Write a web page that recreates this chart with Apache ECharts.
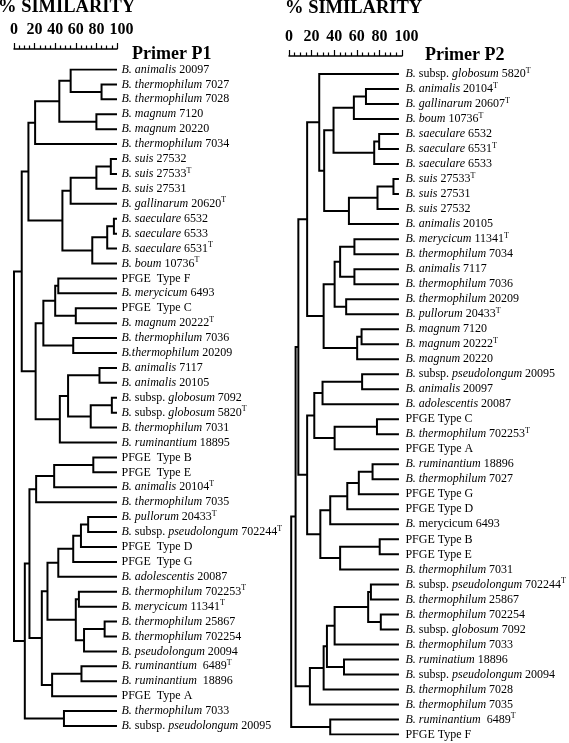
<!DOCTYPE html>
<html><head><meta charset="utf-8">
<script src="https://cdn.jsdelivr.net/npm/echarts@6/dist/echarts.min.js"></script>
<style>html,body{margin:0;padding:0;background:#fff}#c{width:569px;height:743px}</style>
</head><body><div id="c"></div>
<script>
// ---- data ----
const leftLeaves = [
  "_B. animalis_ 20097", "_B. thermophilum_ 7027", "_B. thermophilum_ 7028", "_B. magnum_ 7120",
  "_B. magnum_ 20220", "_B. thermophilum_ 7034", "_B. suis_ 27532", "_B. suis_ 27533^T",
  "_B. suis_ 27531", "_B. gallinarum_ 20620^T", "_B. saeculare_ 6532", "_B. saeculare_ 6533",
  "_B. saeculare_ 6531^T", "_B. boum_ 10736^T", "PFGE  Type F", "_B. merycicum_ 6493",
  "PFGE  Type C", "_B. magnum_ 20222^T", "_B. thermophilum_ 7036", "_B.thermophilum_ 20209",
  "_B. animalis_ 7117", "_B. animalis_ 20105", "_B._ subsp. _globosum_ 7092", "_B._ subsp. _globosum_ 5820^T",
  "_B. thermophilum_ 7031", "_B. ruminantium_ 18895", "PFGE  Type B", "PFGE  Type E",
  "_B. animalis_ 20104^T", "_B. thermophilum_ 7035", "_B. pullorum_ 20433^T", "_B._ subsp. _pseudolongum_ 702244^T",
  "PFGE  Type D", "PFGE  Type G", "_B. adolescentis_ 20087", "_B. thermophilum_ 702253^T",
  "_B. merycicum_ 11341^T", "_B. thermophilum_ 25867", "_B. thermophilum_ 702254", "_B. pseudolongum_ 20094",
  "_B. ruminantium_  6489^T", "_B. ruminantium_  18896", "PFGE  Type A", "_B. thermophilum_ 7033",
  "_B._ subsp. _pseudolongum_ 20095"
];
// [node id, child A, child B, % similarity]; numbers are leaf indices
const leftMerges = [
  ['n1', 1, 2, 85], ['n2', 0, 'n1', 55], ['n3', 3, 4, 80], ['n4', 'n2', 'n3', 44],
  ['n5', 'n4', 5, 20.5], ['n6', 6, 7, 94], ['n7', 'n6', 8, 80], ['n8', 'n7', 9, 55],
  ['n9', 10, 11, 97], ['n10', 'n9', 12, 90.5], ['n11', 'n10', 13, 76], ['n12', 'n8', 'n11', 47],
  ['n13', 'n5', 'n12', 14], ['n14', 14, 15, 43], ['n15', 16, 17, 60], ['n16', 'n14', 'n15', 40],
  ['n17', 18, 19, 57.5], ['n18', 'n16', 'n17', 28.5], ['n19', 20, 21, 83], ['n20', 22, 23, 95],
  ['n21', 'n20', 24, 74.5], ['n22', 'n19', 'n21', 52.5], ['n23', 'n22', 25, 44.5], ['n24', 'n18', 'n23', 21],
  ['n25', 'n13', 'n24', 7.5], ['n26', 26, 27, 77], ['n27', 'n26', 28, 39], ['n28', 'n27', 29, 21.5],
  ['n29', 30, 31, 72], ['n30', 'n29', 32, 65], ['n31', 'n30', 33, 57.5], ['n32', 'n31', 34, 43],
  ['n33', 35, 36, 63], ['n34', 37, 38, 88], ['n35', 'n34', 39, 68], ['n36', 'n33', 'n35', 60],
  ['n37', 'n32', 'n36', 32.5], ['n38', 40, 41, 65.5], ['n39', 'n38', 42, 37], ['n40', 'n37', 'n39', 27],
  ['n41', 'n28', 'n40', 15], ['n42', 43, 44, 48.5], ['n43', 'n41', 'n42', 10.5], ['root', 'n25', 'n43', 0]
];
const rightLeaves = [
  "_B._ subsp. _globosum_ 5820^T", "_B. animalis_ 20104^T", "_B. gallinarum_ 20607^T", "_B. boum_ 10736^T",
  "_B. saeculare_ 6532", "_B. saeculare_ 6531^T", "_B. saeculare_ 6533", "_B. suis_ 27533^T",
  "_B. suis_ 27531", "_B. suis_ 27532", "_B. animalis_ 20105", "_B. merycicum_ 11341^T",
  "_B. thermophilum_ 7034", "_B. animalis_ 7117", "_B. thermophilum_ 7036", "_B. thermophilum_ 20209",
  "_B. pullorum_ 20433^T", "_B. magnum_ 7120", "_B. magnum_ 20222^T", "_B. magnum_ 20220",
  "_B._ subsp. _pseudolongum_ 20095", "_B. animalis_ 20097", "_B. adolescentis_ 20087", "PFGE Type C",
  "_B. thermophilum_ 702253^T", "PFGE Type A", "_B. ruminantium_ 18896", "_B. thermophilum_ 7027",
  "PFGE Type G", "PFGE Type D", "_B._ merycicum 6493", "PFGE Type B",
  "PFGE Type E", "_B. thermophilum_ 7031", "_B._ subsp. _pseudolongum_ 702244^T", "_B. thermophilum_ 25867",
  "_B. thermophilum_ 702254", "_B._ subsp. _globosum_ 7092", "_B. thermophilum_ 7033", "_B. ruminatium_ 18896",
  "_B._ subsp. _pseudolongum_ 20094", "_B. thermophilum_ 7028", "_B. thermophilum_ 7035", "_B. ruminantium_  6489^T",
  "PFGE Type F"
];
const rightMerges = [
  ['m1', 1, 2, 70], ['m2', 'm1', 3, 59], ['m3', 4, 5, 82], ['m4', 'm3', 6, 77.5],
  ['m5', 'm2', 'm4', 40.5], ['m6', 7, 8, 95], ['m7', 'm6', 9, 80.5], ['m8', 'm7', 10, 54.5],
  ['m9', 'm5', 'm8', 32], ['m10', 0, 'm9', 27.5], ['m11', 11, 12, 59.5], ['m12', 13, 14, 59.5],
  ['m13', 'm11', 'm12', 46.5], ['m14', 15, 16, 52], ['m15', 'm13', 'm14', 41.5], ['m16', 17, 18, 66],
  ['m17', 'm16', 19, 62], ['m18', 'm15', 'm17', 31.5], ['m19', 'm10', 'm18', 16.5], ['m20', 20, 21, 66.5],
  ['m21', 'm20', 22, 30.5], ['m22', 23, 24, 80], ['m23', 'm22', 25, 41.5], ['m24', 'm21', 'm23', 23],
  ['m25', 26, 27, 76], ['m26', 'm25', 28, 63.5], ['m27', 'm26', 29, 53], ['m28', 'm27', 30, 37.5],
  ['m29', 31, 32, 82.5], ['m30', 'm29', 33, 46.5], ['m31', 'm28', 'm30', 28.5], ['m32', 'm24', 'm31', 16.5],
  ['m33', 34, 35, 74.5], ['m34', 36, 37, 83.5], ['m35', 'm33', 'm34', 72], ['m36', 'm35', 38, 41.5],
  ['m37', 39, 40, 50], ['m38', 'm36', 'm37', 34.5], ['m39', 'm38', 41, 31.5], ['m40', 'm39', 42, 19],
  ['m41', 'm19', 'm32', 8.5], ['m42', 'm41', 'm40', 6], ['m43', 43, 44, 37.5], ['root', 'm42', 'm43', 2]
];
const scaleMin = 0, scaleMax = 100, scaleStep = 20;
const titleText = '% SIMILARITY';
const panelTitles = ['Primer P1', 'Primer P2'];

// ---- helpers ----
function buildBrackets(merges) {
  const pos = {};
  const node = r => typeof r === 'number' ? { h: scaleMax, y: r } : pos[r];
  return merges.map(([id, a, b, h]) => {
    const A = node(a), B = node(b);
    pos[id] = { h: h, y: (A.y + B.y) / 2 };
    return { coords: [[A.h, A.y], [h, A.y], [h, B.y], [B.h, B.y]] };
  });
}
function richLabel(s) {
  return s.split(/(_[^_]+_|\^T)/).filter(t => t.length).map(t => {
    if (t[0] === '_') return '{i|' + t.slice(1, -1) + '}';
    if (t === '^T') return '{s|T}';
    return '{n|' + t + '}';
  }).join('');
}
const FF = '"Liberation Serif", "Times New Roman", serif';
const FS = 12;
const richStyles = {
  n: { fontFamily: FF, fontSize: FS, color: '#000', lineHeight: 15 },
  i: { fontFamily: FF, fontSize: FS, color: '#000', fontStyle: 'italic', lineHeight: 15 },
  s: { fontFamily: FF, fontSize: 8, color: '#000', verticalAlign: 'top', lineHeight: 9 }
};
function scaleAxis(gridIndex) {
  return {
    type: 'value', gridIndex: gridIndex, position: 'top',
    min: scaleMin, max: scaleMax, interval: scaleStep,
    axisLine: { show: true, lineStyle: { color: '#000', width: 1.5 } },
    axisTick: { show: true, length: 6, lineStyle: { color: '#000', width: 1.2 } },
    minorTick: { show: true, splitNumber: 4, length: 3.5, lineStyle: { color: '#000', width: 1.2 } },
    splitLine: { show: false },
    axisLabel: {
      margin: 9, color: '#000',
      formatter: v => v === scaleMax ? '{p|' + v + '}' : '{d|' + v + '}',
      rich: {
        d: { fontFamily: FF, fontSize: 16, fontWeight: 'bold', color: '#000' },
        p: { fontFamily: FF, fontSize: 16, fontWeight: 'bold', color: '#000', padding: [0, 0, 0, 9] }
      }
    }
  };
}
function hiddenX(gridIndex) {
  return { type: 'value', gridIndex: gridIndex, min: scaleMin, max: scaleMax, show: false, splitLine: { show: false } };
}
function hiddenY(gridIndex) {
  return { type: 'value', gridIndex: gridIndex, min: 0, max: 1, show: false, splitLine: { show: false } };
}
function yAxisCfg(gridIndex, leaves, margin) {
  return {
    type: 'value', gridIndex: gridIndex, position: 'right', inverse: true,
    min: 0, max: leaves.length - 1, interval: 1,
    axisLine: { show: false }, axisTick: { show: false }, splitLine: { show: false },
    axisLabel: { margin: margin, formatter: v => richLabel(leaves[v] || ''), rich: richStyles }
  };
}
function treeSeries(idx, merges) {
  return {
    type: 'lines', coordinateSystem: 'cartesian2d', xAxisIndex: idx, yAxisIndex: idx,
    polyline: true, silent: true,
    lineStyle: { color: '#000', width: 2, opacity: 1 },
    data: buildBrackets(merges)
  };
}

const chart = echarts.init(document.getElementById('c'), null, { renderer: 'canvas' });
chart.setOption({
  animation: false,
  backgroundColor: '#fff',
  grid: [
    { left: 14, width: 103, top: 69.5, height: 656.5 },
    { left: 289, width: 113, top: 74, height: 660.5 },
    { left: 14, width: 103, top: 47, height: 2 },
    { left: 289, width: 113, top: 54, height: 2 }
  ],
  xAxis: [hiddenX(0), hiddenX(1), scaleAxis(2), scaleAxis(3)],
  yAxis: [yAxisCfg(0, leftLeaves, 4.5), yAxisCfg(1, rightLeaves, 6.5), hiddenY(2), hiddenY(3)],
  series: [treeSeries(0, leftMerges), treeSeries(1, rightMerges)],
  graphic: [
    { type: 'text', x: -2, y: 7, style: { text: titleText, fontFamily: FF, fontSize: 18.5, fontWeight: 'bold', fill: '#000', verticalAlign: 'middle', textVerticalAlign: 'middle' } },
    { type: 'text', x: 285, y: 8.5, style: { text: titleText, fontFamily: FF, fontSize: 18.5, fontWeight: 'bold', fill: '#000', verticalAlign: 'middle', textVerticalAlign: 'middle' } },
    { type: 'text', x: 132, y: 54, style: { text: panelTitles[0], fontFamily: FF, fontSize: 18, fontWeight: 'bold', fill: '#000', verticalAlign: 'middle', textVerticalAlign: 'middle' } },
    { type: 'text', x: 425, y: 55, style: { text: panelTitles[1], fontFamily: FF, fontSize: 18, fontWeight: 'bold', fill: '#000', verticalAlign: 'middle', textVerticalAlign: 'middle' } }
  ]
});
</script></body></html>
